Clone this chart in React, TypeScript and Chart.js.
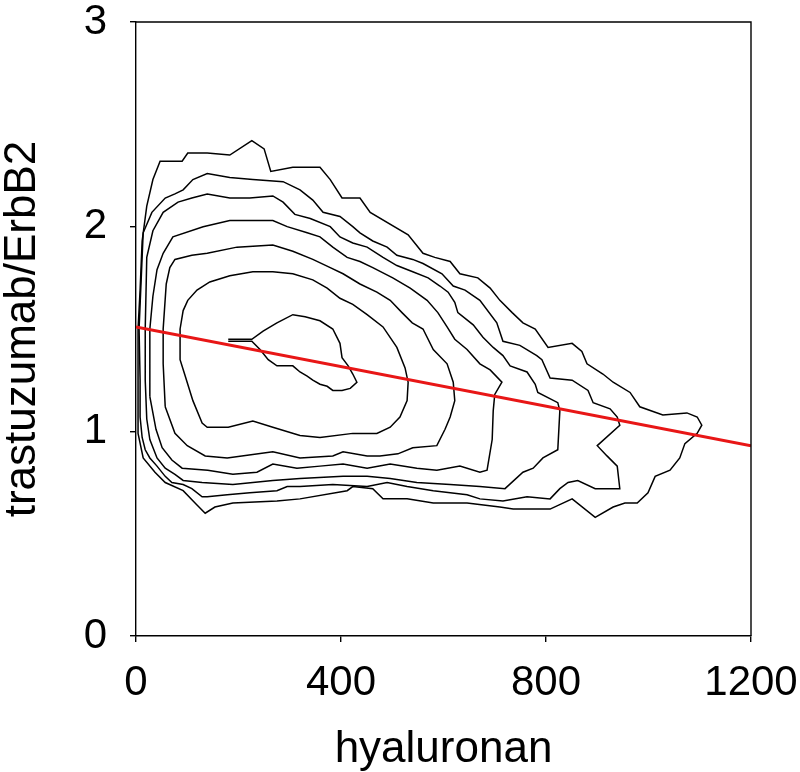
import React, { useEffect, useRef } from "react";
import { Chart, registerables } from "chart.js";

Chart.register(...registerables);

// Axis ticks
const xTicks = [0, 400, 800, 1200];
const yTicks = [0, 1, 2, 3];

// Regression line endpoints [hyaluronan, trastuzumab/ErbB2]
const fitLine: [number, number][] = [
  [0, 1.51],
  [1200, 0.93],
];

// Contour levels, outermost (1) to innermost (7), as [hyaluronan, trastuzumab/ErbB2]
const contour1: [number, number][] = [
  [4, 1.15], [4, 1.5], [8, 1.69], [12, 1.93], [21, 2.1], [33, 2.23], [47, 2.32], [90, 2.32],
  [101, 2.36], [139, 2.36], [183, 2.35], [226, 2.42], [250, 2.38], [263, 2.27], [306, 2.29],
  [359, 2.29], [379, 2.23], [402, 2.14], [437, 2.14], [457, 2.07], [531, 1.96], [560, 1.87],
  [583, 1.85], [613, 1.83], [632, 1.77], [667, 1.75], [691, 1.7], [710, 1.64], [734, 1.58],
  [755, 1.53], [779, 1.5], [804, 1.41], [851, 1.43], [870, 1.39], [880, 1.33], [911, 1.28],
  [931, 1.24], [964, 1.19], [983, 1.12], [1028, 1.08], [1075, 1.09], [1095, 1.07], [1104, 1.03],
  [1095, 0.99], [1071, 0.94], [1061, 0.87], [1042, 0.81], [1013, 0.78], [999, 0.7], [978, 0.65],
  [954, 0.65], [931, 0.63], [896, 0.58], [851, 0.67], [808, 0.62], [736, 0.62], [710, 0.63],
  [646, 0.65], [580, 0.65], [529, 0.67], [482, 0.67], [462, 0.72], [423, 0.73], [412, 0.71],
  [320, 0.67], [275, 0.66], [189, 0.65], [154, 0.63], [135, 0.6], [119, 0.64], [92, 0.71],
  [57, 0.75], [37, 0.8], [14, 0.87], [4, 0.99], [4, 1.15],
];

const contour2: [number, number][] = [
  [8, 1.07], [8, 1.25], [6, 1.5], [14, 1.97], [31, 2.07], [57, 2.14], [76, 2.16], [92, 2.18],
  [111, 2.23], [139, 2.26], [183, 2.24], [228, 2.23], [287, 2.22], [320, 2.18], [345, 2.13],
  [365, 2.07], [398, 2.05], [423, 2.0], [437, 1.97], [462, 1.93], [490, 1.9], [509, 1.86],
  [540, 1.84], [560, 1.82], [597, 1.77], [619, 1.71], [642, 1.69], [671, 1.64], [704, 1.53],
  [716, 1.44], [749, 1.42], [782, 1.37], [792, 1.35], [808, 1.26], [851, 1.25], [882, 1.2],
  [892, 1.14], [925, 1.11], [939, 1.07], [944, 1.03], [900, 0.93], [919, 0.88], [939, 0.83],
  [944, 0.72], [896, 0.72], [862, 0.76], [843, 0.75], [827, 0.72], [808, 0.67], [763, 0.68],
  [716, 0.66], [671, 0.67], [646, 0.69], [580, 0.71], [529, 0.73], [490, 0.75], [451, 0.73],
  [384, 0.74], [320, 0.73], [295, 0.73], [275, 0.71], [222, 0.7], [178, 0.69], [139, 0.68],
  [129, 0.68], [109, 0.72], [92, 0.74], [70, 0.75], [57, 0.78], [41, 0.83], [27, 0.87],
  [18, 0.91], [12, 0.97], [8, 1.07],
];

const contour3: [number, number][] = [
  [18, 1.25], [18, 1.5], [21, 1.85], [33, 1.98], [53, 2.07], [82, 2.12], [109, 2.14], [139, 2.16],
  [183, 2.14], [222, 2.14], [267, 2.15], [287, 2.12], [310, 2.06], [340, 2.04], [379, 2.0],
  [398, 1.95], [423, 1.92], [451, 1.9], [482, 1.85], [509, 1.81], [540, 1.78], [570, 1.75],
  [593, 1.71], [609, 1.68], [622, 1.63], [628, 1.58], [658, 1.52], [677, 1.46], [697, 1.41],
  [716, 1.37], [730, 1.32], [763, 1.29], [779, 1.23], [784, 1.19], [823, 1.14], [827, 1.1],
  [823, 0.91], [794, 0.87], [775, 0.82], [755, 0.8], [720, 0.72], [671, 0.73], [613, 0.74],
  [548, 0.75], [496, 0.77], [451, 0.78], [404, 0.78], [320, 0.77], [267, 0.76], [189, 0.74],
  [129, 0.75], [92, 0.76], [76, 0.79], [57, 0.82], [41, 0.87], [27, 0.96], [21, 1.06], [18, 1.25],
];

const contour4: [number, number][] = [
  [27, 1.17], [27, 1.5], [33, 1.66], [41, 1.79], [53, 1.87], [72, 1.95], [131, 2.0], [183, 2.03],
  [267, 2.03], [295, 2.0], [334, 1.97], [359, 1.95], [384, 1.9], [412, 1.85], [437, 1.83],
  [462, 1.8], [501, 1.75], [535, 1.7], [568, 1.64], [589, 1.58], [607, 1.51], [622, 1.45],
  [646, 1.4], [671, 1.33], [691, 1.3], [714, 1.24], [700, 1.18], [697, 1.1], [695, 0.96],
  [685, 0.81], [671, 0.8], [632, 0.83], [587, 0.81], [548, 0.82], [496, 0.84], [451, 0.82],
  [404, 0.84], [359, 0.83], [314, 0.82], [267, 0.84], [236, 0.8], [189, 0.79], [140, 0.81],
  [90, 0.82], [70, 0.86], [51, 0.92], [39, 1.01], [27, 1.17],
];

const contour5: [number, number][] = [
  [57, 1.12], [53, 1.33], [53, 1.5], [59, 1.72], [66, 1.8], [76, 1.84], [109, 1.86], [139, 1.87],
  [197, 1.9], [267, 1.91], [306, 1.88], [345, 1.84], [379, 1.8], [404, 1.77], [437, 1.72],
  [470, 1.68], [496, 1.64], [519, 1.58], [539, 1.53], [560, 1.5], [580, 1.4], [607, 1.33],
  [619, 1.24], [622, 1.15], [613, 1.07], [603, 1.01], [587, 0.93], [540, 0.92], [511, 0.89],
  [476, 0.88], [451, 0.88], [404, 0.9], [384, 0.88], [320, 0.87], [267, 0.9], [178, 0.87],
  [135, 0.88], [100, 0.93], [76, 0.99], [57, 1.12],
];

const contour6: [number, number][] = [
  [86, 1.5], [92, 1.59], [101, 1.64], [119, 1.69], [144, 1.73], [183, 1.76], [228, 1.78],
  [267, 1.78], [306, 1.77], [345, 1.74], [373, 1.7], [398, 1.65], [423, 1.62], [451, 1.57],
  [482, 1.51], [509, 1.41], [525, 1.31], [531, 1.24], [529, 1.15], [515, 1.07], [496, 1.02],
  [470, 0.99], [423, 0.99], [359, 0.97], [320, 0.98], [267, 1.02], [228, 1.05], [180, 1.02],
  [139, 1.02], [129, 1.04], [111, 1.15], [96, 1.27], [86, 1.35], [86, 1.5],
];

const contour7: [number, number][] = [
  [180, 1.45], [226, 1.45], [248, 1.49], [275, 1.53], [306, 1.57], [330, 1.56], [359, 1.54],
  [384, 1.5], [398, 1.43], [402, 1.36], [414, 1.32], [423, 1.28], [431, 1.24], [418, 1.21],
  [402, 1.2], [384, 1.2], [373, 1.22], [359, 1.23], [345, 1.25], [334, 1.27], [320, 1.29],
  [306, 1.32], [295, 1.32], [275, 1.32], [258, 1.35], [242, 1.4], [226, 1.44], [180, 1.44],
];

const contours = [contour1, contour2, contour3, contour4, contour5, contour6, contour7];

const FONT = "'Liberation Sans', Arial, sans-serif";

const boxPlugin = {
  id: "boxPlugin",
  afterDatasetsDraw(chart: any) {
    const { ctx, chartArea } = chart;
    ctx.save();
    ctx.strokeStyle = "#000";
    ctx.lineWidth = 1.4;
    ctx.beginPath();
    ctx.moveTo(chartArea.left, chartArea.top);
    ctx.lineTo(chartArea.right, chartArea.top);
    ctx.lineTo(chartArea.right, chartArea.bottom);
    ctx.stroke();
    ctx.restore();
  },
};

export default function App() {
  const canvasRef = useRef<HTMLCanvasElement | null>(null);

  useEffect(() => {
    if (!canvasRef.current) return;
    const toPts = (arr: [number, number][]) => arr.map(([x, y]) => ({ x, y }));
    const datasets: any[] = [
      {
        label: "fit",
        data: toPts(fitLine),
        borderColor: "rgb(232, 22, 22)",
        borderWidth: 3,
        pointRadius: 0,
        showLine: true,
        order: 0,
        tension: 0,
      },
      ...contours.map((c, i) => ({
        label: "contour " + (i + 1),
        data: toPts(c),
        borderColor: "#000",
        borderWidth: 1.5,
        pointRadius: 0,
        showLine: true,
        order: 1,
        tension: 0,
      })),
    ];

    const chart = new Chart(canvasRef.current, {
      type: "scatter",
      data: { datasets },
      options: {
        animation: false,
        responsive: false,
        events: [],
        layout: { padding: { left: 0, top: 22, right: 49, bottom: 0 } },
        plugins: { legend: { display: false }, tooltip: { enabled: false } },
        scales: {
          x: {
            type: "linear",
            min: 0,
            max: 1200,
            afterFit: (s: any) => {
              s.height = 136;
              s.paddingLeft = 0;
              s.paddingRight = 0;
            },
            afterBuildTicks: (s: any) => {
              s.ticks = xTicks.map((v) => ({ value: v }));
            },
            ticks: {
              color: "#000",
              padding: 20,
              maxRotation: 0,
              callback: (v: any) => String(v),
              font: { family: FONT, size: 42, lineHeight: 1 },
            },
            grid: {
              drawOnChartArea: false,
              drawTicks: true,
              tickLength: 6,
              color: "#000",
              lineWidth: 1.4,
            },
            border: { display: true, color: "#000", width: 1.4 },
            title: {
              display: true,
              text: "hyaluronan",
              color: "#000",
              padding: { top: 0, bottom: 0 },
              font: { family: FONT, size: 44, lineHeight: 1 },
            },
          },
          y: {
            type: "linear",
            min: 0,
            max: 3,
            afterFit: (s: any) => {
              s.width = 136;
              s.paddingTop = 0;
              s.paddingBottom = 0;
            },
            afterBuildTicks: (s: any) => {
              s.ticks = yTicks.map((v) => ({ value: v }));
            },
            ticks: {
              color: "#000",
              padding: 23,
              callback: (v: any) => String(v),
              font: { family: FONT, size: 42, lineHeight: 1 },
            },
            grid: {
              drawOnChartArea: false,
              drawTicks: true,
              tickLength: 6,
              color: "#000",
              lineWidth: 1.4,
            },
            border: { display: true, color: "#000", width: 1.4 },
            title: {
              display: true,
              text: "trastuzumab/ErbB2",
              color: "#000",
              padding: { top: 1, bottom: 0 },
              font: { family: FONT, size: 44, lineHeight: 1 },
            },
          },
        },
      },
      plugins: [boxPlugin],
    });
    return () => chart.destroy();
  }, []);

  return (
    <div style={{ position: "fixed", left: 0, top: 0, width: 800, height: 772, background: "#fff" }}>
      <canvas ref={canvasRef} width={800} height={772} style={{ display: "block" }} />
    </div>
  );
}
